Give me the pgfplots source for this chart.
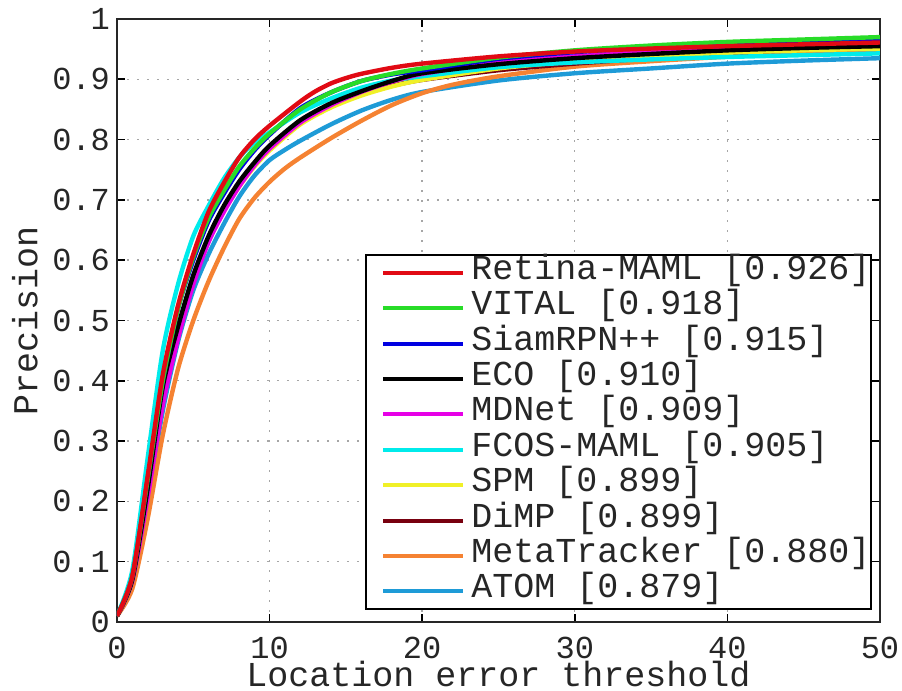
\documentclass[border=0pt]{standalone}
\usepackage{fontspec}
\setmainfont{Liberation Mono}
\usepackage{pgfplots}
\pgfplotsset{compat=1.18}
\definecolor{cRed}{RGB}{225,10,20}
\definecolor{cGreen}{RGB}{40,220,40}
\definecolor{cBlue}{RGB}{0,0,225}
\definecolor{cBlack}{RGB}{0,0,0}
\definecolor{cMag}{RGB}{230,0,230}
\definecolor{cCyan}{RGB}{0,235,235}
\definecolor{cYel}{RGB}{240,240,40}
\definecolor{cDRed}{RGB}{120,0,15}
\definecolor{cOrange}{RGB}{245,130,50}
\definecolor{cAtom}{RGB}{30,155,215}
\begin{document}
\begin{tikzpicture}
\begin{axis}[
  at={(0,0)}, anchor=south west,
  scale only axis, width=381.5pt, height=301.5pt,
  xmin=0, xmax=50, ymin=0, ymax=1,
  xtick={0,10,...,50}, ytick={0,0.1,...,1},
  yticklabels={0,0.1,0.2,0.3,0.4,0.5,0.6,0.7,0.8,0.9,1},
  /pgf/number format/assume math mode=true,
  tick label style={font=\fontsize{16}{16}\selectfont, text=black!85},
  xticklabel style={inner sep=0.5pt, text depth=0pt, yshift=-7pt},
  tick align=inside, major tick length=4pt,
  tick style={black, line width=0.8pt},
  axis line style={black!85, line width=1pt},
  grid=major,
  major grid style={gray!70, line width=0.7pt, dash pattern=on 0.8pt off 4.2pt},
  xlabel={Location error threshold},
  ylabel={Precision},
  every axis x label/.style={at={(axis description cs:0.5,-0.1062)}, anchor=base, inner sep=0pt, text depth=0pt, font=\fontsize{17.5}{17.5}\selectfont, text=black!85},
  every axis y label/.style={at={(axis description cs:-0.1206,0.5)}, rotate=90, anchor=center, font=\fontsize{17.5}{17.5}\selectfont, text=black!85},
  every axis plot/.append style={line width=2.2pt, line join=round, smooth, tension=0.45},
  legend style={at={(axis description cs:0.99,0.02)}, anchor=south east,
    draw=black, line width=1pt, inner xsep=0pt, inner ysep=0.5pt,
    font=\fontsize{17.5}{17.5}\selectfont, text=black!85,
    row sep=1.2pt,
    nodes={inner sep=0.5pt, text height=11pt, text depth=4.5pt}},
  legend cell align=left,
  legend image code/.code={\path[draw=none, fill=none] (0pt,0pt) -- (52pt,0pt); \draw[#1, line width=2pt, smooth=false] (8.5pt,0pt) -- (48.5pt,0pt);},
  reverse legend,
]
% ATOM
\addplot[cAtom] coordinates {(0,0.01)(1,0.07)(2,0.20)(3,0.35)(4,0.465)(5,0.55)(6,0.61)(7,0.66)(8,0.705)(9,0.74)(10,0.766)(11,0.783)(12,0.798)(14,0.825)(16,0.848)(18,0.866)(20,0.879)(25,0.898)(30,0.910)(35,0.918)(40,0.926)(45,0.931)(50,0.935)};
% MetaTracker
\addplot[cOrange] coordinates {(0,0.01)(1,0.055)(2,0.17)(3,0.31)(4,0.42)(5,0.50)(6,0.565)(7,0.62)(8,0.668)(9,0.703)(10,0.73)(11,0.752)(12,0.77)(14,0.802)(16,0.831)(18,0.857)(20,0.877)(22,0.891)(25,0.905)(30,0.921)(35,0.930)(40,0.9375)(45,0.944)(50,0.949)};
% DiMP
\addplot[cDRed] coordinates {(0,0.01)(1,0.07)(2,0.215)(3,0.375)(4,0.485)(5,0.57)(6,0.635)(7,0.685)(8,0.725)(9,0.76)(10,0.788)(12,0.83)(14,0.855)(16,0.875)(18,0.889)(20,0.899)(25,0.915)(30,0.926)(35,0.935)(40,0.943)(45,0.949)(50,0.954)};
% SPM
\addplot[cYel] coordinates {(0,0.01)(1,0.068)(2,0.21)(3,0.365)(4,0.475)(5,0.565)(6,0.632)(7,0.682)(8,0.722)(9,0.755)(10,0.782)(12,0.825)(14,0.853)(16,0.873)(18,0.888)(20,0.899)(25,0.918)(30,0.930)(35,0.938)(40,0.944)(45,0.948)(50,0.951)};
% FCOS-MAML
\addplot[cCyan] coordinates {(0,0.01)(1,0.085)(2,0.27)(3,0.45)(4,0.56)(5,0.64)(6,0.69)(7,0.735)(8,0.77)(9,0.795)(10,0.812)(12,0.845)(14,0.868)(16,0.886)(18,0.898)(20,0.905)(25,0.920)(30,0.928)(35,0.933)(40,0.937)(45,0.940)(50,0.943)};
% MDNet
\addplot[cMag] coordinates {(0,0.01)(1,0.068)(2,0.205)(3,0.36)(4,0.47)(5,0.56)(6,0.63)(7,0.68)(8,0.722)(9,0.757)(10,0.785)(12,0.828)(14,0.857)(16,0.879)(18,0.896)(20,0.909)(25,0.928)(30,0.938)(35,0.946)(40,0.953)(45,0.958)(50,0.961)};
% ECO
\addplot[cBlack] coordinates {(0,0.01)(1,0.07)(2,0.22)(3,0.39)(4,0.49)(5,0.575)(6,0.64)(7,0.69)(8,0.73)(9,0.762)(10,0.79)(12,0.832)(14,0.86)(16,0.88)(18,0.897)(20,0.910)(25,0.925)(30,0.935)(35,0.942)(40,0.948)(45,0.952)(50,0.955)};
% SiamRPN++
\addplot[cBlue] coordinates {(0,0.01)(1,0.075)(2,0.235)(3,0.40)(4,0.52)(5,0.60)(6,0.665)(7,0.71)(8,0.75)(9,0.782)(10,0.808)(12,0.852)(14,0.878)(16,0.897)(18,0.908)(20,0.915)(25,0.934)(30,0.945)(35,0.953)(40,0.959)(45,0.962)(50,0.965)};
% VITAL
\addplot[cGreen] coordinates {(0,0.01)(1,0.075)(2,0.235)(3,0.40)(4,0.52)(5,0.605)(6,0.67)(7,0.715)(8,0.755)(9,0.785)(10,0.81)(12,0.85)(14,0.878)(16,0.897)(18,0.909)(20,0.918)(25,0.936)(30,0.948)(35,0.956)(40,0.962)(45,0.966)(50,0.970)};
% Retina-MAML
\addplot[cRed] coordinates {(0,0.01)(1,0.075)(2,0.24)(3,0.41)(4,0.525)(5,0.61)(6,0.68)(7,0.728)(8,0.77)(9,0.80)(10,0.823)(12,0.863)(13,0.88)(14,0.893)(15,0.902)(16,0.909)(18,0.919)(20,0.926)(25,0.938)(30,0.946)(35,0.951)(40,0.955)(45,0.958)(50,0.961)};
\legend{ATOM [0.879], MetaTracker [0.880], DiMP [0.899], SPM [0.899], FCOS-MAML [0.905], MDNet [0.909], ECO [0.910], SiamRPN++ [0.915], VITAL [0.918], Retina-MAML [0.926]}
\end{axis}
\pgfresetboundingbox
\useasboundingbox (-58.5pt,-34.5pt) rectangle (392.5pt,311pt);
\end{tikzpicture}
\end{document}
